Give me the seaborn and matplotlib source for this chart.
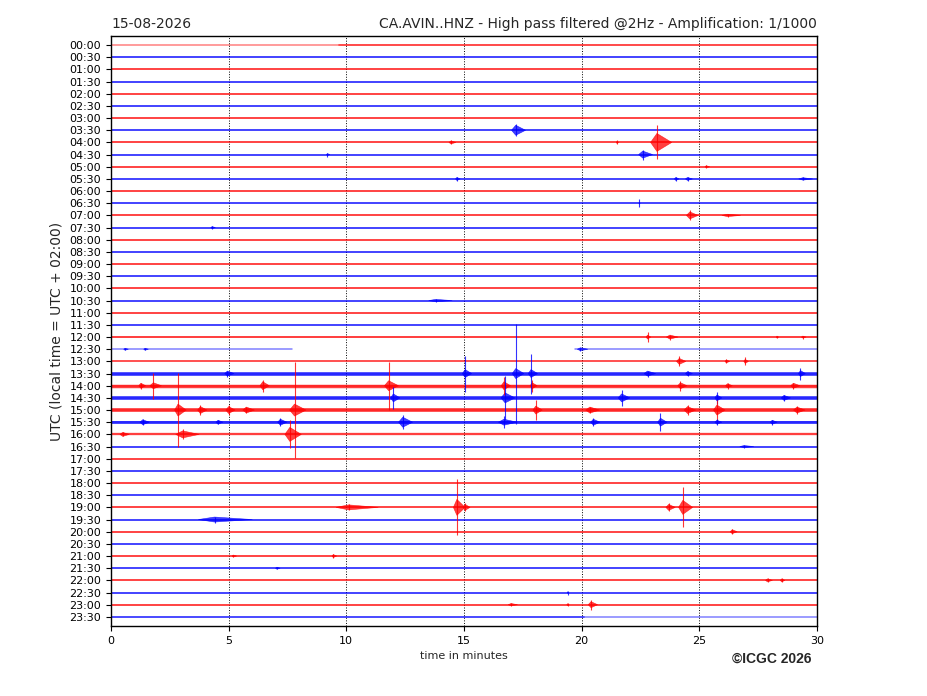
import matplotlib
matplotlib.use("Agg")
import matplotlib.pyplot as plt
import seaborn as sns
import pandas as pd

# Helicorder rows (30 min each), top to bottom
row_labels = ["00:00", "00:30", "01:00", "01:30", "02:00", "02:30", "03:00", "03:30",
              "04:00", "04:30", "05:00", "05:30", "06:00", "06:30", "07:00", "07:30",
              "08:00", "08:30", "09:00", "09:30", "10:00", "10:30", "11:00", "11:30",
              "12:00", "12:30", "13:00", "13:30", "14:00", "14:30", "15:00", "15:30",
              "16:00", "16:30", "17:00", "17:30", "18:00", "18:30", "19:00", "19:30",
              "20:00", "20:30", "21:00", "21:30", "22:00", "22:30", "23:00", "23:30"]

# background noise level of each row (band thickness)
noise = [1.2, 1.3, 1.3, 1.3, 1.3, 1.3, 1.3, 1.3,
         1.3, 1.3, 1.3, 1.3, 1.3, 1.3, 1.3, 1.3,
         1.3, 1.3, 1.3, 1.3, 1.3, 1.3, 1.3, 1.3,
         1.4, 0.0, 1.1, 2.7, 2.5, 2.7, 2.7, 2.1,
         1.7, 1.3, 1.3, 1.3, 1.3, 1.3, 1.3, 1.3,
         1.3, 1.3, 1.3, 1.3, 1.3, 1.3, 1.3, 1.2]

# parts of rows with no signal (flat trace) and the data gap
flat_row = [0, 25, 25, 47]
flat_start = [0.0, 0.0, 19.72, 20.1]
flat_end = [9.7, 7.68, 30.0, 30.0]
gap_row = [25]
gap_start = [7.68]
gap_end = [19.72]

# events: row, minute, peak amplitude, body amplitude (px of the 1/1000 trace), duration (min)
ev_row, ev_min, ev_peak, ev_body, ev_dur = [], [], [], [], []

ev_row += [7, 8, 8, 8, 9, 9, 10, 11, 11, 11, 11, 13, 14, 14, 15, 21]
ev_min += [17.2, 23.2, 14.45, 21.5, 22.6, 9.2, 25.3, 14.7, 24.0, 24.5, 29.4, 22.45, 24.6, 26.2, 4.3, 13.8]
ev_peak += [6, 17, 2, 2, 5, 2, 1.5, 2, 2, 2, 1.5, 4, 5, 1.5, 1.5, 1.5]
ev_body += [5, 9, 1.5, 1, 3.5, 1, 1, 1.5, 1.5, 1.5, 1.2, 1, 3.5, 1.2, 1, 1.2]
ev_dur += [0.6, 0.9, 0.3, 0.1, 0.6, 0.15, 0.2, 0.2, 0.2, 0.3, 0.6, 0.05, 0.5, 0.8, 0.2, 1.0]

ev_row += [24, 24, 24, 24, 25, 25, 25, 26, 26, 26]
ev_min += [22.8, 23.75, 28.3, 29.4, 0.6, 1.45, 19.95, 24.15, 26.15, 26.95]
ev_peak += [5, 2.5, 1, 1.5, 1, 1, 1.5, 5, 2, 4]
ev_body += [2, 2, 1, 1, 1, 1, 1.5, 3, 1.5, 2]
ev_dur += [0.2, 0.5, 0.1, 0.2, 0.2, 0.2, 0.45, 0.4, 0.2, 0.2]

ev_row += [27, 27, 27, 27, 27, 27, 27]
ev_min += [15.05, 17.2, 17.85, 4.95, 22.8, 29.3, 24.5]
ev_peak += [18, 50, 20, 3, 3, 6, 2.5]
ev_body += [4, 5, 4, 2.5, 2.5, 3, 2]
ev_dur += [0.4, 0.5, 0.4, 0.4, 0.5, 0.3, 0.3]

ev_row += [28, 28, 28, 28, 28, 28, 28, 28, 28]
ev_min += [1.8, 1.27, 6.45, 11.8, 16.7, 17.9, 24.2, 26.2, 29.0]
ev_peak += [13, 3, 6, 24, 9, 6, 5, 3, 3]
ev_body += [3, 2.5, 4, 5, 4, 3, 3, 2, 2.5]
ev_dur += [0.5, 0.3, 0.4, 0.6, 0.4, 0.3, 0.4, 0.3, 0.4]

ev_row += [29, 29, 29, 29, 29]
ev_min += [12.0, 16.75, 21.7, 25.75, 28.6]
ev_peak += [11, 22, 8, 6, 3]
ev_body += [4, 5, 4, 3, 2.5]
ev_dur += [0.4, 0.6, 0.5, 0.3, 0.4]

ev_row += [30, 30, 30, 30, 30, 30, 30, 30, 30, 30]
ev_min += [2.85, 3.8, 5.0, 5.75, 7.8, 18.05, 20.35, 24.5, 25.75, 29.15]
ev_peak += [37, 5, 5, 3, 48, 10, 3, 5, 10, 4]
ev_body += [6, 3.5, 3.5, 3, 6, 4, 3, 3.5, 5, 3]
ev_dur += [0.5, 0.4, 0.4, 0.5, 0.7, 0.4, 0.6, 0.5, 0.5, 0.5]

ev_row += [31, 31, 31, 31, 31, 31, 31, 31, 31]
ev_min += [1.35, 4.55, 7.2, 12.4, 16.7, 20.5, 23.35, 25.75, 28.1]
ev_peak += [3, 2, 4, 7, 6, 4, 9, 3, 2.5]
ev_body += [2.5, 2, 3, 5, 3, 3, 4, 2, 2]
ev_dur += [0.4, 0.3, 0.4, 0.6, 0.8, 0.4, 0.4, 0.3, 0.3]

ev_row += [32, 32, 32, 33]
ev_min += [0.5, 3.05, 7.6, 26.9]
ev_peak += [2, 5, 14, 1.5]
ev_body += [2, 3.5, 7, 1]
ev_dur += [0.4, 1.0, 0.7, 0.6]

ev_row += [38, 38, 38, 38, 38, 39, 40, 42, 42, 43, 44, 44, 45, 46, 46, 46]
ev_min += [14.7, 15.05, 10.1, 24.3, 23.7, 4.4, 26.4, 9.45, 5.2, 7.05, 27.9, 28.5, 19.4, 20.4, 17.0, 19.4]
ev_peak += [28, 4, 3, 20, 4, 3, 2.5, 2, 1, 1, 2, 2, 2, 5, 1.5, 1.5]
ev_body += [8, 3, 2.5, 7, 3, 2.5, 2, 1.5, 1, 1, 1.5, 1.5, 0.8, 3, 1.2, 1]
ev_dur += [0.5, 0.3, 1.8, 0.6, 0.4, 2.3, 0.3, 0.2, 0.2, 0.2, 0.3, 0.2, 0.05, 0.4, 0.4, 0.1]

events = pd.DataFrame({"row": ev_row, "minute": ev_min, "peak": ev_peak,
                       "body": ev_body, "dur": ev_dur})

gain = 1 / 12.17  # trace px -> row spacing

sns.set_style("ticks")
plt.rcParams["font.family"] = ["DejaVu Sans"]

fig, ax = plt.subplots(figsize=(9.27, 6.96), dpi=100)
fig.subplots_adjust(left=0.1197, right=0.8813, top=0.9483, bottom=0.1006)


def row_color(r):
    return "red" if r % 2 == 0 else "blue"


def spans(r):
    # data segments of a row minus gaps
    segs = [(0.0, 30.0)]
    for gr, gs, ge in zip(gap_row, gap_start, gap_end):
        if gr == r:
            segs = [(a, min(b, gs)) for a, b in segs if a < gs] + \
                   [(max(a, ge), b) for a, b in segs if b > ge]
    return segs


def noisy_spans(r):
    segs = spans(r)
    for fr, fs, fe in zip(flat_row, flat_start, flat_end):
        if fr == r:
            new = []
            for a, b in segs:
                if fe <= a or fs >= b:
                    new.append((a, b))
                    continue
                if a < fs:
                    new.append((a, fs))
                if fe < b:
                    new.append((fe, b))
            segs = new
    return segs


for r in range(len(row_labels)):
    c = row_color(r)
    for a, b in spans(r):
        sns.lineplot(x=[a, b], y=[r, r], color=c, lw=1.1, alpha=0.5, ax=ax)
    if noise[r] > 0:
        for a, b in noisy_spans(r):
            sns.lineplot(x=[a, b], y=[r, r], color=c, lw=noise[r],
                         alpha=0.6 if noise[r] < 2 else 0.75, ax=ax)

for _, e in events.iterrows():
    c = row_color(int(e["row"]))
    r = e["row"]
    b = e["body"] * gain
    p = e["peak"] * gain
    m, d = e["minute"], e["dur"]
    ax.fill([m - 0.3 * d, m, m + 0.7 * d, m], [r, r - b, r, r + b],
            color=c, alpha=0.75, lw=0.4)
    ax.vlines(m, r - p, r + p, color=c, lw=0.8, alpha=0.8)

for gx in [5, 10, 15, 20, 25]:
    ax.axvline(gx, color="black", ls=":", lw=0.7, zorder=0)

ax.set_xlim(0, 30)
ax.set_ylim(len(row_labels) - 0.25, -0.75)
ax.set_xticks([0, 5, 10, 15, 20, 25, 30])
ax.set_yticks(range(len(row_labels)))
ax.set_yticklabels(row_labels)
ax.tick_params(labelsize=8, colors="black", length=3.5)
for s in ax.spines.values():
    s.set_color("black")
    s.set_linewidth(1.0)

ax.set_title("15-08-2026", loc="left", fontsize=10)
ax.set_title("CA.AVIN..HNZ - High pass filtered @2Hz - Amplification: 1/1000",
             loc="right", fontsize=10)
ax.set_xlabel("time in minutes", fontsize=8)
ax.set_ylabel("UTC (local time = UTC + 02:00)", fontsize=10)
fig.text(0.875, 0.053, "\u00a9ICGC 2026", ha="right", va="center",
         fontsize=10, fontweight="bold", family="Liberation Sans")

fig.savefig("out.png", dpi=100)
